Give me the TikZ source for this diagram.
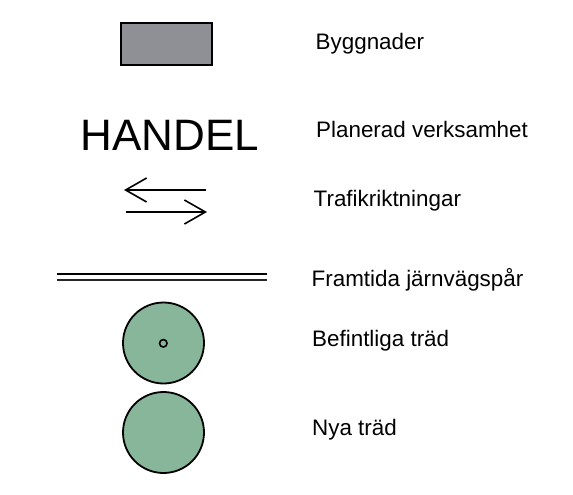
\documentclass[tikz,border=0pt]{standalone}
\usepackage{fontspec}
\setmainfont{Liberation Sans}
\usetikzlibrary{arrows.meta}
\definecolor{bldgrey}{HTML}{8F9095}
\definecolor{treegreen}{HTML}{88B69A}
\begin{document}
\begin{tikzpicture}[x=1pt,y=-1pt,
  label/.style={anchor=base west,inner sep=0pt,font=\fontsize{22.4}{26}\selectfont},
  building/.style={draw=black,line width=1.8pt,fill=bldgrey},
  tree/.style={circle,draw=black,line width=1.8pt,fill=treegreen,minimum size=81pt,inner sep=0pt},
  trunk/.style={circle,draw=black,line width=1.6pt,minimum size=7.5pt,inner sep=0pt},
  trafarrow/.style={line width=1.6pt,-{Straight Barb[length=21pt,width=24pt,line width=1.6pt]}},
  rail/.style={line width=1.7pt}]
\useasboundingbox (0,0) rectangle (573,495);
% buildings
\node[building,minimum width=91pt,minimum height=42pt,inner sep=0pt] (bld) at (166.5,44) {};
\node[label] (lbld) at (315.5,49.3) {Byggnader};
% planned activity
\node[anchor=base,inner sep=0pt,font=\fontsize{44}{50}\selectfont] (handel) at (170,150) {HANDEL};
\node[label] (lhandel) at (316,137) {Planerad verksamhet};
% traffic directions
\coordinate (a1s) at (206,190);
\coordinate (a1e) at (124,190);
\coordinate (a2s) at (126,212);
\coordinate (a2e) at (207,212);
\draw[trafarrow] (a1s) -- (a1e);
\draw[trafarrow] (a2s) -- (a2e);
\node[label] (ltraf) at (313.5,206.7) {Trafikriktningar};
% railway
\coordinate (r1s) at (57,274.3);
\coordinate (r1e) at (267,274.3);
\coordinate (r2s) at (57,280.3);
\coordinate (r2e) at (267,280.3);
\draw[rail] (r1s) -- (r1e);
\draw[rail,draw=black!85] (r2s) -- (r2e);
\node[label] (lrail) at (311.5,286) {Framtida järnvägspår};
% existing trees
\node[tree] (tree1) at (163.5,343) {};
\node[trunk] (trunk1) at (163.3,343.3) {};
\node[label] (ltree1) at (312,346) {Befintliga träd};
% new trees
\node[tree] (tree2) at (163.5,432.5) {};
\node[label] (ltree2) at (312,435) {Nya träd};
\end{tikzpicture}
\end{document}
